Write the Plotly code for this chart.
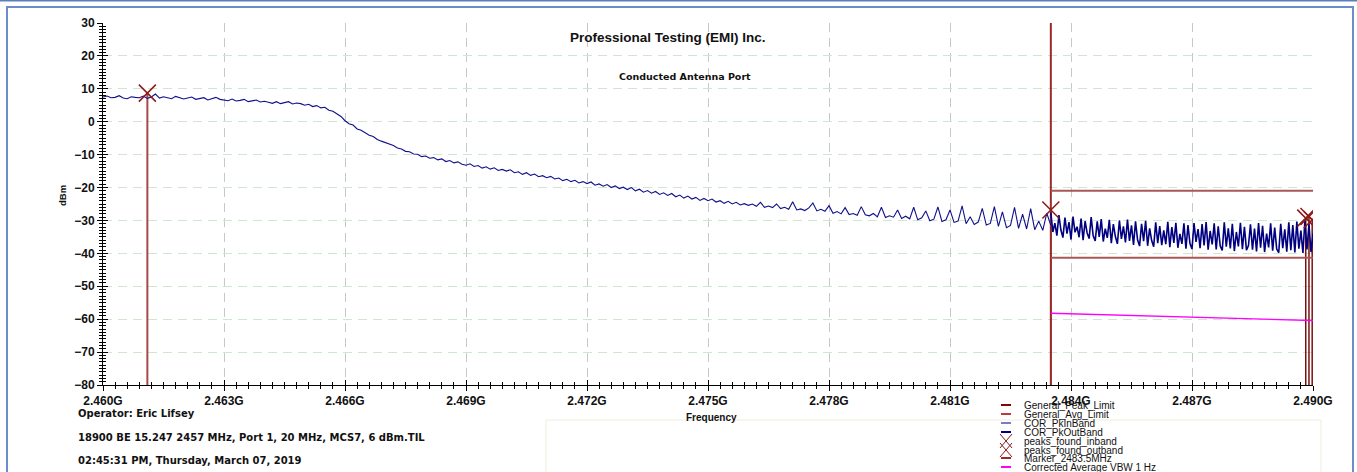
import plotly.graph_objects as go

# ---- data ----
# frequencies in MHz
INBAND_START, INBAND_STEP = 2460.0, 0.1
OUTBAND_START, OUTBAND_STEP = 2483.5, 0.05

cor_pk_inband = [
    7.5, 7.8, 7.3, 7.4, 7.9, 7.2, 7.0, 7.6, 7.4, 7.3,
    7.8, 7.1, 7.5, 8.4, 7.2, 7.6, 7.3, 7.0, 7.7, 7.4,
    6.9, 7.2, 7.5, 6.8, 7.0, 7.3, 6.6, 6.9, 7.4, 6.8,
    6.7, 6.4, 6.9, 6.3, 6.5, 6.8, 6.1, 6.4, 6.6, 6.0,
    6.2, 5.9, 5.6, 6.1, 5.5, 5.8, 6.1, 5.4, 5.7, 5.5,
    5.0, 5.3, 4.6, 4.9, 4.2, 4.4, 3.5, 3.2, 2.4, 1.6,
    0.3, -0.6, -1.0, -2.2, -2.6, -3.4, -4.1, -4.5, -5.4, -5.9,
    -6.4, -6.9, -7.2, -8.0, -8.3, -9.0, -9.1, -9.8, -9.9, -10.6,
    -10.4, -11.1, -10.9, -11.6, -11.3, -12.1, -11.8, -12.5, -12.2, -12.9,
    -13.2, -12.8, -13.6, -13.3, -14.1, -13.7, -14.4, -14.0, -14.8, -14.5,
    -15.0, -14.6, -15.5, -15.2, -16.0, -15.5, -16.3, -15.9, -16.7, -16.4,
    -17.0, -16.6, -17.4, -17.1, -17.9, -17.5, -18.2, -17.8, -18.6, -18.2,
    -18.8, -18.3, -19.3, -18.9, -19.6, -19.1, -20.0, -19.5, -20.3, -19.9,
    -20.6, -20.0, -21.0, -20.5, -21.4, -20.9, -21.7, -21.2, -22.1, -21.6,
    -22.4, -21.8, -22.8, -22.3, -23.2, -22.6, -23.5, -23.0, -23.9, -23.3,
    -24.0, -23.5, -24.4, -24.0, -24.8, -24.2, -25.0, -24.5, -25.3, -24.9,
    -25.4, -25.0, -25.7, -24.5, -26.0, -25.6, -26.1, -25.0, -26.4, -26.0,
    -26.6, -24.3, -26.8, -26.5, -27.0, -26.2, -24.7, -27.1, -26.6, -27.2,
    -25.5, -27.8, -27.3, -28.0, -26.1, -28.2, -27.9, -28.4, -25.8, -28.3,
    -28.6, -27.9, -28.9, -26.0, -29.1, -28.6, -29.0, -26.8, -29.4, -28.7,
    -29.5, -26.0, -29.8, -29.2, -27.1, -30.1, -29.6, -25.9, -30.3, -29.8,
    -26.8, -30.6, -30.2, -25.6, -31.0, -28.9, -31.2, -30.5, -26.3, -31.4,
    -30.9, -25.8, -31.8, -27.4, -32.2, -31.5, -26.0, -32.4, -28.1, -32.6,
    -26.4, -32.8, -30.2, -33.0, -27.8, -31.5,
]

cor_pk_outband = [
    -27.6, -33.5, -30.8, -34.6, -28.4, -32.9, -35.2, -29.1, -34.0, -30.5,
    -35.8, -28.8, -33.6, -31.9, -35.1, -29.4, -36.0, -30.2, -33.8, -35.5,
    -29.0, -34.7, -36.2, -30.3, -35.0, -29.6, -36.4, -32.5, -35.3, -29.8,
    -36.9, -31.1, -34.9, -37.1, -30.0, -35.6, -31.8, -36.7, -29.7, -36.2,
    -31.5, -37.4, -30.3, -35.9, -37.8, -31.0, -36.3, -30.1, -37.7, -32.4,
    -36.1, -38.0, -30.6, -36.9, -31.7, -37.5, -33.0, -37.2, -30.4, -38.1,
    -32.0, -36.8, -30.7, -38.3, -34.1, -37.1, -30.9, -38.6, -31.4, -37.0,
    -38.7, -30.8, -36.5, -32.6, -38.4, -31.1, -37.6, -30.5, -38.9, -33.2,
    -37.3, -30.9, -38.8, -31.8, -37.8, -39.1, -30.6, -38.0, -32.4, -38.5,
    -31.0, -39.3, -33.5, -37.9, -30.7, -38.7, -31.9, -39.0, -37.6, -31.2,
    -38.9, -32.5, -39.4, -30.8, -38.3, -31.6, -39.6, -34.0, -38.2, -30.9,
    -39.2, -32.2, -38.7, -39.8, -31.0, -38.4, -32.7, -39.5, -30.6, -39.0,
    -31.4, -39.7, -30.3, -38.6, -33.1, -39.9, -30.0, -38.8, -31.2, -39.6,
    -34.0,
]

peak_limit_f = [2483.5, 2490.0]
peak_limit_dbm = [-21.0, -21.0]
avg_limit_f = [2483.5, 2490.0]
avg_limit_dbm = [-41.3, -41.3]

peaks_inband_f = [2461.1]
peaks_inband_dbm = [8.7]
peaks_outband_f = [2483.5, 2489.82, 2489.9, 2489.98]
peaks_outband_dbm = [-26.8, -29.3, -28.8, -29.8]

marker_f = 2483.5

corr_avg_f = [2483.5, 2490.0]
corr_avg_dbm = [-58.2, -60.4]

x_ticks = [2460, 2463, 2466, 2469, 2472, 2475, 2478, 2481, 2484, 2487, 2490]
x_ticklabels = ["2.460G", "2.463G", "2.466G", "2.469G", "2.472G", "2.475G",
                "2.478G", "2.481G", "2.484G", "2.487G", "2.490G"]
Y_MIN, Y_MAX = -80, 30

legend_names = ["General_Peak_Limit", "General_Avg_Limit", "COR_PkInBand", "COR_PkOutBand",
                "peaks_found_inband", "peaks_found_outband", "Marker_2483.5MHz",
                "Corrected Average VBW 1 Hz"]
legend_colors = ["#8b0000", "#c03a3a", "#7c7cc4", "#000080",
                 "#8b1a1a", "#8b1a1a", "#a02828", "#ff00ff"]

inband_f = [INBAND_START + i * INBAND_STEP for i in range(len(cor_pk_inband))]
outband_f = [OUTBAND_START + i * OUTBAND_STEP for i in range(len(cor_pk_outband))]

# ---- layout geometry (pixels) ----
W, H = 1357, 472
L, R, T, B = 103, 44, 23, 87
PW, PH = W - L - R, H - T - B


def px(x):
    return (x - L) / PW


def py(y):
    return (H - B - y) / PH


FONT = "Liberation Sans, Arial, sans-serif"
WIDE = "DejaVu Sans, Verdana, sans-serif"
STEM = "#a84848"

fig = go.Figure()


def stems(fs, vs):
    xs, ys = [], []
    for f, v in zip(fs, vs):
        xs += [f, f, None]
        ys += [Y_MIN, v, None]
    return xs, ys


sx, sy = stems(peaks_inband_f, peaks_inband_dbm)
fig.add_trace(go.Scatter(x=sx, y=sy, mode="lines", line=dict(color=STEM, width=2), hoverinfo="skip"))
sx, sy = stems(peaks_outband_f, peaks_outband_dbm)
fig.add_trace(go.Scatter(x=sx, y=sy, mode="lines", line=dict(color="#7a1010", width=1.5), hoverinfo="skip"))

fig.add_trace(go.Scatter(x=[marker_f, marker_f], y=[Y_MIN, Y_MAX], mode="lines",
                         name=legend_names[6], line=dict(color="#9b2a2a", width=2)))

fig.add_trace(go.Scatter(x=peak_limit_f, y=peak_limit_dbm, mode="lines", name=legend_names[0],
                         line=dict(color="#a85858", width=2)))
fig.add_trace(go.Scatter(x=avg_limit_f, y=avg_limit_dbm, mode="lines", name=legend_names[1],
                         line=dict(color="#a85858", width=2)))

fig.add_trace(go.Scatter(x=inband_f, y=cor_pk_inband, mode="lines", name=legend_names[2],
                         line=dict(color="#10108a", width=1.1)))
fig.add_trace(go.Scatter(x=outband_f, y=cor_pk_outband, mode="lines", name=legend_names[3],
                         line=dict(color="#000080", width=1.6)))

fig.add_trace(go.Scatter(x=corr_avg_f, y=corr_avg_dbm, mode="lines", name=legend_names[7],
                         line=dict(color="#ff00ff", width=1.3)))

fig.add_trace(go.Scatter(x=peaks_inband_f, y=peaks_inband_dbm, mode="markers", name=legend_names[4],
                         marker=dict(symbol="x-thin", size=17, line=dict(color="#8b1a1a", width=1.5))))
fig.add_trace(go.Scatter(x=peaks_outband_f, y=peaks_outband_dbm, mode="markers", name=legend_names[5],
                         marker=dict(symbol="x-thin", size=17, line=dict(color="#8b1a1a", width=1.5))))

# invisible trace so the overlay axes (inside ticks) get drawn
fig.add_trace(go.Scatter(x=[x_ticks[0]], y=[Y_MIN], xaxis="x2", yaxis="y2", mode="markers",
                         marker=dict(opacity=0), hoverinfo="skip"))

shapes = []
# outer frame
shapes.append(dict(type="rect", xref="paper", yref="paper", x0=px(7), x1=px(1353), y0=py(478), y1=py(7),
                   line=dict(color="#6a8fc8", width=2), fillcolor="rgba(0,0,0,0)", layer="below"))
shapes.append(dict(type="line", xref="paper", yref="paper", x0=px(0), x1=px(W), y0=py(0.5), y1=py(0.5),
                   line=dict(color="#5a80c0", width=2)))
# faint box below the axis
shapes.append(dict(type="rect", xref="paper", yref="paper", x0=px(546), x1=px(1321), y0=py(480), y1=py(420),
                   line=dict(color="#efeedd", width=1), fillcolor="rgba(0,0,0,0)"))

annotations = []
# custom legend (entries overlap like the reference)
leg_y = [405, 414, 423, 432, 441, 450, 458, 467]
for name, col, yy in zip(legend_names, legend_colors, leg_y):
    if name.startswith("peaks"):
        shapes.append(dict(type="line", xref="paper", yref="paper", x0=px(1000), x1=px(1012),
                           y0=py(yy - 7), y1=py(yy + 7), line=dict(color=col, width=1)))
        shapes.append(dict(type="line", xref="paper", yref="paper", x0=px(1000), x1=px(1012),
                           y0=py(yy + 7), y1=py(yy - 7), line=dict(color=col, width=1)))
    else:
        shapes.append(dict(type="line", xref="paper", yref="paper", x0=px(1001), x1=px(1011),
                           y0=py(yy), y1=py(yy), line=dict(color=col, width=2)))
    annotations.append(dict(text=name, xref="paper", yref="paper", x=px(1022), y=py(yy),
                            xanchor="left", yanchor="middle", showarrow=False,
                            font=dict(family=FONT, size=10, color="#111111")))

# titles and notes
annotations.append(dict(text="<b>Professional Testing (EMI) Inc.</b>", xref="paper", yref="paper",
                        x=px(668), y=py(37), xanchor="center", yanchor="middle", showarrow=False,
                        font=dict(family=FONT, size=13.5, color="#111111")))
annotations.append(dict(text="<b>Conducted Antenna Port</b>", xref="paper", yref="paper",
                        x=px(685), y=py(77), xanchor="center", yanchor="middle", showarrow=False,
                        font=dict(family=WIDE, size=9.5, color="#111111")))
annotations.append(dict(text="<b>dBm</b>", xref="paper", yref="paper", x=px(63), y=py(196),
                        xanchor="center", yanchor="middle", textangle=-90, showarrow=False,
                        font=dict(family=FONT, size=9.5, color="#111111")))
annotations.append(dict(text="<b>Frequency</b>", xref="paper", yref="paper", x=px(711), y=py(417),
                        xanchor="center", yanchor="middle", showarrow=False,
                        font=dict(family=FONT, size=10, color="#111111")))
for txt, yy in [("Operator: Eric Lifsey", 413),
                ("18900 BE 15.247 2457 MHz, Port 1, 20 MHz, MCS7, 6 dBm.TIL", 437),
                ("02:45:31 PM, Thursday, March 07, 2019", 460)]:
    annotations.append(dict(text="<b>" + txt + "</b>", xref="paper", yref="paper", x=px(76), y=py(yy),
                            xanchor="left", yanchor="middle", showarrow=False,
                            font=dict(family=WIDE, size=10, color="#111111")))

axis_common = dict(showline=True, linecolor="#000000", linewidth=1, zeroline=False)

fig.update_layout(
    width=W, height=H,
    margin=dict(l=L, r=R, t=T, b=B),
    paper_bgcolor="#ffffff", plot_bgcolor="#ffffff",
    showlegend=False,
    font=dict(family=FONT, color="#111111"),
    xaxis=dict(range=[x_ticks[0], x_ticks[-1]], tickmode="array", tickvals=x_ticks, ticktext=x_ticklabels,
               ticks="outside", ticklen=5, tickcolor="#000000",
               tickfont=dict(family=FONT, size=12, weight="bold", color="#111111"),
               showgrid=True, gridcolor="#c8c8c8", griddash="9px,6px", gridwidth=1,
               minor=dict(dtick=0.3, ticks="outside", ticklen=3, tickcolor="#000000", showgrid=False),
               **axis_common),
    yaxis=dict(range=[Y_MIN, Y_MAX], dtick=10, ticks="outside", ticklen=5, tickcolor="#000000",
               tickfont=dict(family=FONT, size=12, weight="bold", color="#111111"),
               showgrid=True, gridcolor="#cfe6cf", griddash="9px,6px", gridwidth=1,
               minor=dict(dtick=1, ticks="outside", ticklen=3, tickcolor="#000000", showgrid=False),
               **axis_common),
    xaxis2=dict(overlaying="x", anchor="y2", range=[x_ticks[0], x_ticks[-1]], tickmode="array",
                tickvals=x_ticks, ticks="inside", ticklen=5, tickcolor="#000000", showticklabels=False,
                showgrid=False, showline=False, zeroline=False,
                minor=dict(dtick=0.3, ticks="inside", ticklen=3, tickcolor="#000000", showgrid=False)),
    yaxis2=dict(overlaying="y", anchor="x2", range=[Y_MIN, Y_MAX], dtick=10, ticks="inside", ticklen=5,
                tickcolor="#000000", showticklabels=False, showgrid=False, showline=False, zeroline=False,
                minor=dict(dtick=1, ticks="inside", ticklen=3, tickcolor="#000000", showgrid=False)),
    shapes=shapes,
    annotations=annotations,
)

# drop the default body margin so the figure sits at the window's top-left corner
fig.write_html("out.html", config={"displayModeBar": False},
               post_script="document.body.style.margin='0';")
